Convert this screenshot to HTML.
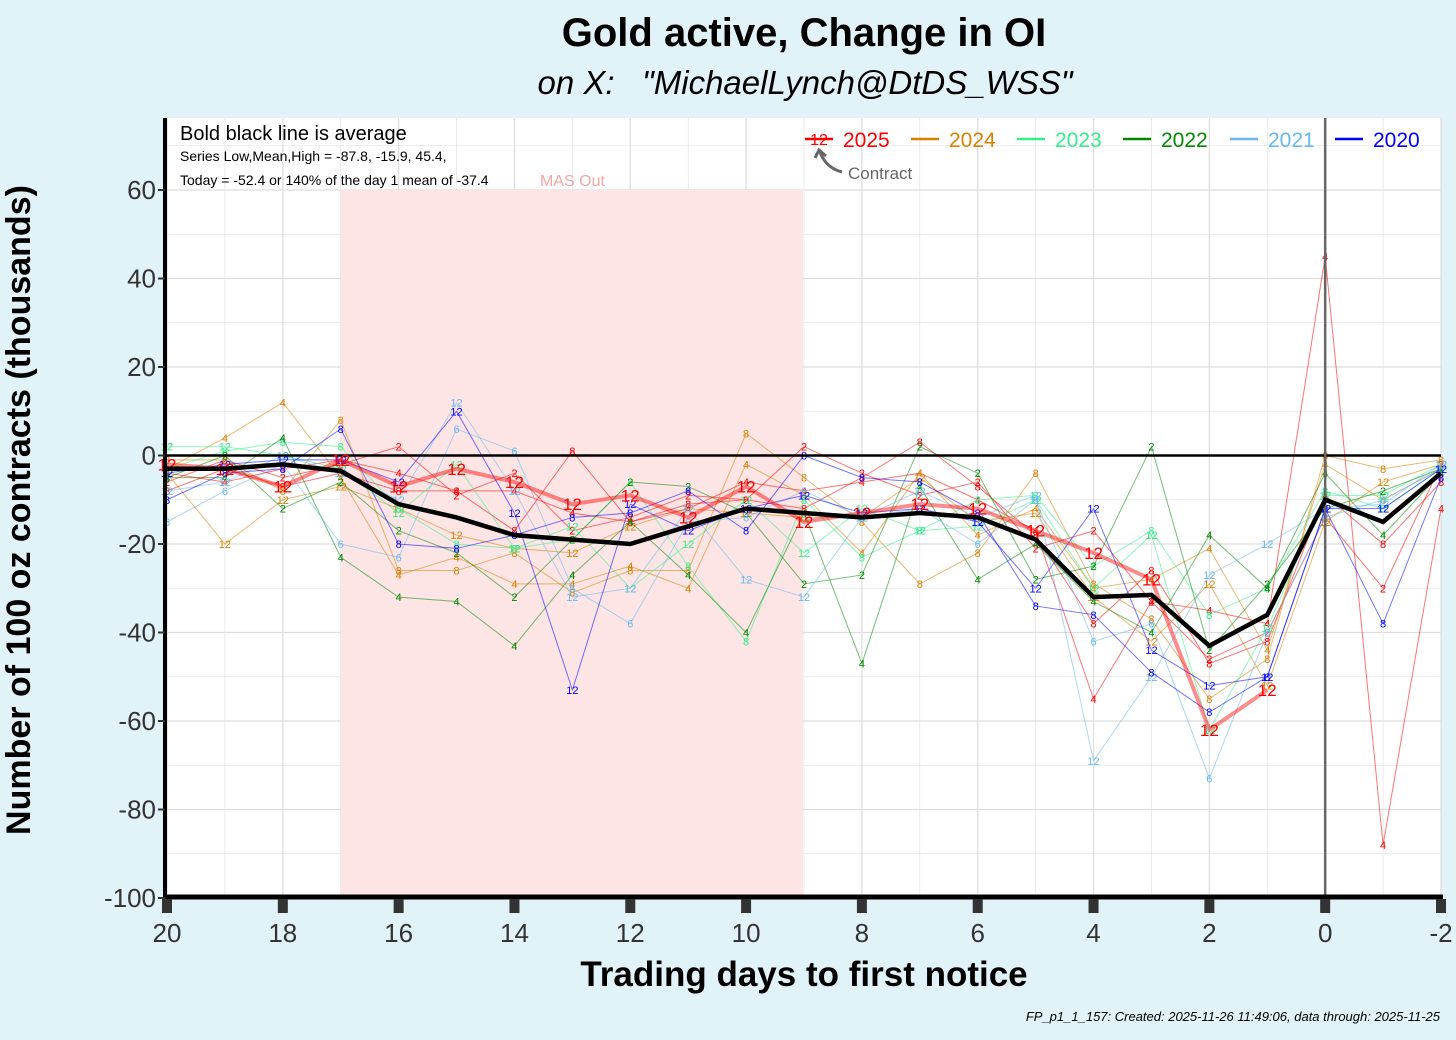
<!DOCTYPE html>
<html><head><meta charset="utf-8"><style>
body{margin:0;background:#e1f3f8;}
svg{display:block;font-family:"Liberation Sans",Arial,sans-serif;}
</style></head><body>
<svg id="c" width="1456" height="1040">
<rect width="1456" height="1040" fill="#e1f3f8"/>
<text x="804" y="46" text-anchor="middle" font-size="40" font-weight="bold">Gold active, Change in OI</text>
<text x="805" y="94" text-anchor="middle" font-size="33" font-style="italic">on X:&#160;&#160;&#160;"MichaelLynch@DtDS_WSS"</text>
<rect x="165" y="118" width="1276" height="780" fill="#fff"/>
<g id="grid"></g>
<rect x="341" y="190" width="462" height="708" fill="#fde5e5"/>
<text x="540" y="186" font-size="16" fill="#f5a5a5">MAS Out</text>
<g id="marks"></g>
<text x="180" y="140" font-size="20">Bold black line is average</text>
<text x="180" y="161" font-size="14">Series Low,Mean,High = -87.8, -15.9, 45.4,</text>
<text x="180" y="185" font-size="14">Today = -52.4 or 140% of the day 1 mean of -37.4</text>
<g id="legend"></g>
<g id="axes"></g>
<text x="30" y="510" transform="rotate(-90 30 510)" text-anchor="middle" font-size="34" font-weight="bold">Number of 100 oz contracts (thousands)</text>
<text x="804" y="986" text-anchor="middle" font-size="35" font-weight="bold">Trading days to first notice</text>
<text x="1440" y="1021" text-anchor="end" font-size="13" font-style="italic">FP_p1_1_157: Created: 2025-11-26 11:49:06, data through: 2025-11-25</text>
</svg>
<script>
const days=[20,19,18,17,16,15,14,13,12,11,10,9,8,7,6,5,4,3,2,1,0,-1,-2];
const xTicks=[20,18,16,14,12,10,8,6,4,2,0,-2];
const yTicks=[60,40,20,0,-20,-40,-60,-80,-100];
const avgValues=[-3,-3,-2,-3.5,-11,-14,-18,-19,-20,-16,-12,-13,-14,-13,-14,-19,-32,-31.5,-43,-36,-10,-15,-4];
const cur2025Values=[-2,-3,-7,-1,-7,-3,-6,-11,-9,-14,-7,-15,-13,-11,-12,-17,-22,-28,-62,-53];
const years=["2025","2024","2023","2022","2021","2020"];
const yearColors=["#ff0000","#d98000","#33ee88","#008800","#66b8f0","#0000ff"];
const s1=["2025","2",[-6,-1,-5,-2,2,-9,-4,-17,-14,-9,-10,2,-4,-9,-6,-21,-17,-33,-46,-40,-14,-30,-2]];
const s2=["2025","4",[-4,-6,-3,-1,-4,-8,-8,-13,-15,-12,-6,-8,-6,-4,-10,-17,-55,-33,-35,-38,45,-88,-12]];
const s3=["2025","8",[-8,-3,-7,-4,-8,-8,-17,1,-15,-11,-10,-12,-5,3,-7,-18,-38,-26,-47,-42,-9,-20,-6]];
const s4=["2024","4",[-3,4,12,-5,-27,-23,-29,-29,-25,-30,-2,-9,-22,-4,-18,-12,-30,-28,-21,-44,-2,-10,-3]];
const s5=["2024","8",[-1,-1,-8,8,-26,-26,-22,-31,-26,-26,5,-5,-15,-29,-22,-4,-29,-37,-55,-46,0,-3,-1]];
const s6=["2024","12",[-4,-20,-10,-7,-12,-18,-21,-22,-16,-12,-13,-14,-14,-5,-15,-13,-32,-42,-29,-52,-15,-6,-2]];
const s7=["2023","8",[-3,1,3,2,-12,-20,-21,-19,-6,-25,-42,-10,-23,-17,-10,-9,-25,-17,-36,-30,-8,-12,-3]];
const s8=["2023","12",[2,2,0,-3,-13,-2,-21,-16,-30,-20,-10,-22,-12,-17,-16,-10,-30,-18,-62,-39,-9,-9,-2]];
const s9=["2022","4",[-5,-5,4,-23,-32,-33,-43,-27,-15,-27,-40,-13,-47,-7,-28,-20,-33,-40,-18,-30,-4,-18,-4]];
const s10=["2022","2",[-5,0,-12,-6,-17,-22,-32,-19,-6,-7,-13,-29,-27,2,-4,-28,-25,2,-44,-29,-12,-8,-3]];
const s11=["2021","6",[-15,-8,-2,-20,-23,6,1,-30,-38,-15,-14,-8,-14,-12,-20,-10,-42,-38,-73,-40,-14,-10,-3]];
const s12=["2021","12",[-8,-6,0,-4,-10,12,-8,-32,-30,-12,-28,-32,-14,-8,-14,-9,-69,-50,-27,-20,-12,-11,-2]];
const s13=["2020","8",[-10,-4,-3,6,-20,-21,-18,-14,-13,-8,-17,0,-5,-6,-13,-34,-36,-49,-58,-50,-12,-38,-5]];
const s14=["2020","12",[-4,-2,-1,-1,-6,10,-13,-53,-11,-17,-12,-9,-13,-12,-15,-30,-12,-44,-52,-50,-12,-12,-3]];
const thinSeries=[s1,s2,s3,s4,s5,s6,s7,s8,s9,s10,s11,s12,s13,s14];

const NS="http://www.w3.org/2000/svg";
const X=d=>167+(20-d)*(1441-167)/22;
const Y=v=>898-(v+100)*(898-190)/160;
function mk(tag,attrs,parent,txt){const e=document.createElementNS(NS,tag);for(const k in attrs)e.setAttribute(k,attrs[k]);if(txt!==undefined)e.textContent=txt;parent.appendChild(e);return e;}
const grid=document.getElementById('grid'),marks=document.getElementById('marks'),axes=document.getElementById('axes'),legend=document.getElementById('legend');
for(let v=-100;v<=70;v+=10){const g=mk('line',{x1:165,x2:1441,y1:Y(v),y2:Y(v),stroke:'#dedede','stroke-width':v%20===0?1.3:0.6},grid);

}
for(let d=20;d>=-2;d-=1){const g=mk('line',{x1:X(d),x2:X(d),y1:118,y2:898,stroke:'#dedede','stroke-width':d%2===0?1.3:0.6},grid);

}
function pts(vals){return vals.map((v,i)=>X(days[i])+','+Y(v)).join(' ');}
thinSeries.forEach(s=>{const col=yearColors[years.indexOf(s[0])];
const p=mk('polyline',{points:pts(s[2]),fill:'none',stroke:col,'stroke-width':1,opacity:0.55},marks);


s[2].forEach((v,i)=>{const t=mk('text',{x:X(days[i]),y:Y(v)+4,'text-anchor':'middle','font-size':11,fill:col},marks,s[1]);

});});
const z=mk('line',{x1:165,x2:1441,y1:Y(0),y2:Y(0),stroke:'#000','stroke-width':2.5},marks);


const vz=mk('line',{x1:X(0),x2:X(0),y1:118,y2:898,stroke:'#666','stroke-width':2.5},marks);


const cl=mk('polyline',{points:pts(cur2025Values),fill:'none',stroke:'#ff0000','stroke-width':4,opacity:0.45},marks);


cur2025Values.forEach((v,i)=>{const t=mk('text',{x:X(days[i]),y:Y(v)+6,'text-anchor':'middle','font-size':17,fill:'#ff0000'},marks,'12');

});
const al=mk('polyline',{points:pts(avgValues),fill:'none',stroke:'#000','stroke-width':4.5},marks);


const la=mk('line',{x1:165,x2:165,y1:118,y2:898,stroke:'#000','stroke-width':4},axes);


const ba=mk('line',{x1:163,x2:1443,y1:897,y2:897,stroke:'#000','stroke-width':5},axes);


xTicks.forEach(d=>{const r=mk('rect',{x:X(d)-5,y:899,width:10,height:14,fill:'#333'},axes);


const t=mk('text',{x:X(d),y:942,'text-anchor':'middle','font-size':26,fill:'#333'},axes,String(d));

});
yTicks.forEach(v=>{const r=mk('line',{x1:158,x2:165,y1:Y(v),y2:Y(v),stroke:'#333','stroke-width':2},axes);


const t=mk('text',{x:156,y:Y(v)+9,'text-anchor':'end','font-size':26,fill:'#333'},axes,String(v));

});
const lx=[843,949,1055,1161,1268,1373];
years.forEach((yr,i)=>{const x=lx[i]-38;
const l=mk('line',{x1:x,x2:x+28,y1:139,y2:139,stroke:yearColors[i],'stroke-width':2.5},legend);


if(i===0){const c=mk('text',{x:x+14,y:145,'text-anchor':'middle','font-size':16,fill:'#ff0000'},legend,'12');

}
const t=mk('text',{x:lx[i],y:147,'font-size':21,fill:yearColors[i]},legend,yr);

});
const ar=mk('path',{d:'M842,172 Q826,168 820,152 M815,158 L819,150 L826,156',fill:'none',stroke:'#666','stroke-width':3},legend);


const ct=mk('text',{x:848,y:179,'font-size':17,fill:'#666'},legend,'Contract');


</script>
</body></html>
